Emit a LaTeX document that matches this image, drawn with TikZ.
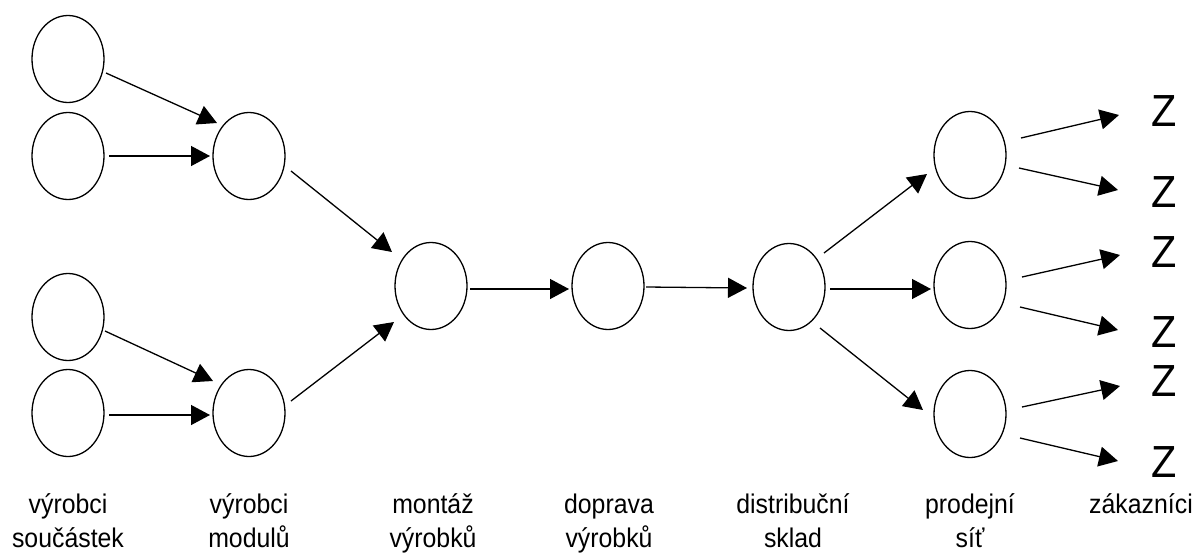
\documentclass[tikz,border=0pt]{standalone}
\usepackage{fontspec}
\setmainfont{Liberation Sans}
\newfontfamily\lblfont[FakeStretch=0.92]{Liberation Sans}
\usetikzlibrary{shapes.geometric,arrows.meta,calc}
\begin{document}
\begin{tikzpicture}[x=1pt,y=-1pt,
  stage/.style={draw=black,line width=1.3pt,ellipse,minimum width=72pt,minimum height=87pt,inner sep=0pt},
  arr/.style={draw=black,line width=1.3pt,-{Triangle[length=19pt,width=20pt]}},
  lbl/.style={font=\lblfont\fontsize{27}{34}\selectfont,align=center,anchor=base,inner sep=0pt},
  zz/.style={font=\lblfont\fontsize{45}{45}\selectfont,inner sep=0pt}]
\useasboundingbox[fill=white] (0,0) rectangle (1196,552);
% nodes
\node[stage] (a1) at (68,59) {};
\node[stage] (a2) at (68,156) {};
\node[stage] (a3) at (68,317) {};
\node[stage] (a4) at (68,413) {};
\node[stage] (b1) at (249,156) {};
\node[stage] (b2) at (249,413) {};
\node[stage] (c) at (431,286) {};
\node[stage] (d) at (608,286) {};
\node[stage] (e) at (789,287) {};
\node[stage] (p1) at (970,155) {};
\node[stage] (p2) at (970,285) {};
\node[stage] (p3) at (970,414) {};
\node[zz] (z1) at (1164,111) {Z};
\node[zz] (z2) at (1164,192) {Z};
\node[zz] (z3) at (1164,252) {Z};
\node[zz] (z4) at (1164,332) {Z};
\node[zz] (z5) at (1164,381) {Z};
\node[zz] (z6) at (1164,462) {Z};
% connectors
\draw[arr] ($(a1)+(38,14)$) -- ($(b1)+(-32,-33)$);
\draw[arr] ($(a2)+(41,0)$) -- ($(b1)+(-39,0)$);
\draw[arr] ($(a3)+(37,14)$) -- ($(b2)+(-36,-32)$);
\draw[arr] ($(a4)+(41,2)$) -- ($(b2)+(-39,2)$);
\draw[arr] ($(b1)+(42,15)$) -- ($(c)+(-39,-34)$);
\draw[arr] ($(b2)+(42,-12)$) -- ($(c)+(-37,36)$);
\draw[arr] ($(c)+(39,3)$) -- ($(d)+(-39,3)$);
\draw[arr] ($(d)+(38,1)$) -- ($(e)+(-42,1)$);
\draw[arr] ($(e)+(35,-34)$) -- ($(p1)+(-43,19)$);
\draw[arr] ($(e)+(41,2)$) -- ($(p2)+(-39,4)$);
\draw[arr] ($(e)+(31,41)$) -- ($(p3)+(-47,-4)$);
\draw[arr] ($(p1)+(51,-17)$) -- ($(z1)+(-45,4)$);
\draw[arr] ($(p1)+(49,13)$) -- ($(z2)+(-46,-2)$);
\draw[arr] ($(p2)+(52,-8)$) -- ($(z3)+(-44,3)$);
\draw[arr] ($(p2)+(50,22)$) -- ($(z4)+(-46,-2)$);
\draw[arr] ($(p3)+(52,-7)$) -- ($(z5)+(-44,5)$);
\draw[arr] ($(p3)+(50,24)$) -- ($(z6)+(-46,-1)$);
% labels (base anchor = baseline of the last line)
\node[lbl] (l1) at (68,547) {výrobci\\součástek};
\node[lbl] (l2) at (249,547) {výrobci\\modulů};
\node[lbl] (l3) at (433,547) {montáž\\výrobků};
\node[lbl] (l4) at (609,547) {doprava\\výrobků};
\node[lbl] (l5) at (793,547) {distribuční\\sklad};
\node[lbl] (l6) at (970,547) {prodejní\\síť};
\node[lbl] (l7) at (1141,513) {zákazníci};
\end{tikzpicture}
\end{document}
